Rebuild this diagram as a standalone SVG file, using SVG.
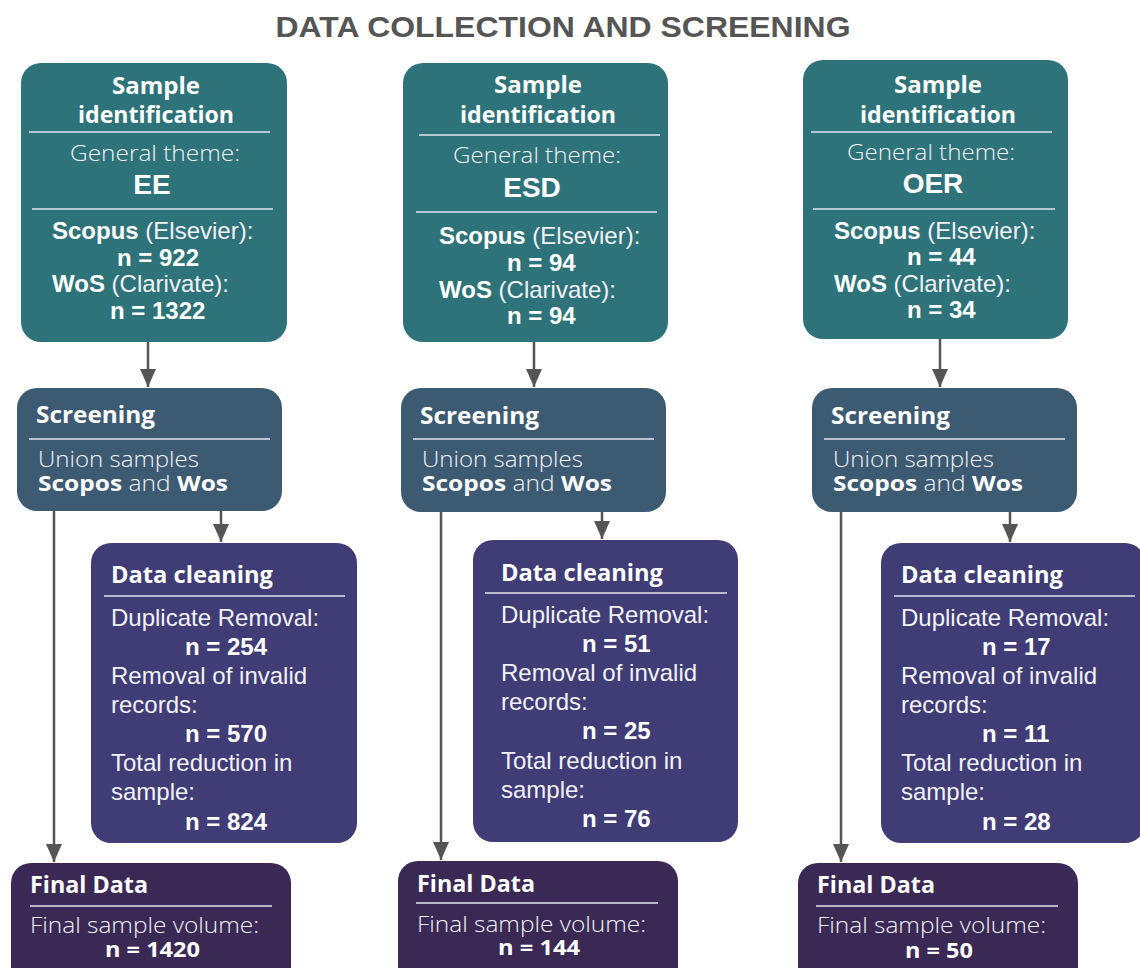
<svg xmlns="http://www.w3.org/2000/svg" width="1140" height="968" viewBox="0 0 1140 968">
  <defs>
    <!-- arrowhead drawn along +x so orient="auto" points it down the line -->
    <marker id="arrow" markerUnits="userSpaceOnUse" markerWidth="18" markerHeight="16" viewBox="0 0 18 16" refX="18" refY="8" orient="auto">
      <path d="M0,0 L18,8 L0,16 Z" fill="#555555"/>
    </marker>
    <style>
      .title { font-family: "Liberation Sans", Arial, sans-serif; font-weight: bold; font-size: 30px; fill: #555555; }
      .ident { fill: #2e7379; }
      .screen { fill: #3d5a73; }
      .clean { fill: #403c75; }
      .final { fill: #392954; }
      .rule { stroke: #e4e4ec; stroke-width: 1.5; }
      .head { font-family: "Open Sans", "Noto Sans", sans-serif; font-weight: bold; font-size: 23px; fill: #ffffff; }
      .lite { font-family: "Open Sans", "Noto Sans", sans-serif; font-weight: 300; font-size: 22px; fill: #f2f2f6; }
      .plexb { font-family: "Open Sans", "Noto Sans", sans-serif; font-weight: bold; font-size: 22px; fill: #ffffff; }
      .body { font-family: "Liberation Sans", Arial, sans-serif; font-size: 24px; fill: #f2f2f6; }
      .num { font-family: "Liberation Sans", Arial, sans-serif; font-weight: bold; font-size: 24px; fill: #ffffff; }
      .theme { font-family: "Liberation Sans", Arial, sans-serif; font-weight: bold; font-size: 28px; fill: #ffffff; }
      .b { font-weight: bold; fill: #ffffff; }
      .conn { stroke: #555555; stroke-width: 2.5; fill: none; }
    </style>
  </defs>

  <rect width="1140" height="968" fill="#ffffff"/>

  <text class="title" x="563" y="37" text-anchor="middle" textLength="575" lengthAdjust="spacingAndGlyphs">DATA COLLECTION AND SCREENING</text>

  <!-- connectors -->
  <g id="connectors">
    <line class="conn" x1="148" y1="342" x2="148" y2="387" marker-end="url(#arrow)"/>
    <line class="conn" x1="54" y1="511" x2="54" y2="862" marker-end="url(#arrow)"/>
    <line class="conn" x1="221" y1="511" x2="221" y2="542" marker-end="url(#arrow)"/>

    <line class="conn" x1="534" y1="342" x2="534" y2="387" marker-end="url(#arrow)"/>
    <line class="conn" x1="441" y1="512" x2="441" y2="860" marker-end="url(#arrow)"/>
    <line class="conn" x1="602" y1="512" x2="602" y2="539" marker-end="url(#arrow)"/>

    <line class="conn" x1="940" y1="339" x2="940" y2="387" marker-end="url(#arrow)"/>
    <line class="conn" x1="841" y1="512" x2="841" y2="862" marker-end="url(#arrow)"/>
    <line class="conn" x1="1010" y1="512" x2="1010" y2="542" marker-end="url(#arrow)"/>
  </g>

  <!-- column 1: EE -->
  <g id="ident-ee">
    <rect class="ident" x="21" y="63" width="266" height="279" rx="20"/>
    <text class="head" x="156" y="94" text-anchor="middle" textLength="88" lengthAdjust="spacingAndGlyphs">Sample</text>
    <text class="head" x="156" y="123" text-anchor="middle" textLength="156" lengthAdjust="spacingAndGlyphs">identification</text>
    <line class="rule" x1="29" y1="132" x2="270" y2="132"/>
    <text class="lite" x="155" y="161" text-anchor="middle" textLength="170" lengthAdjust="spacingAndGlyphs">General theme:</text>
    <text class="theme" x="152" y="194" text-anchor="middle">EE</text>
    <line class="rule" x1="32" y1="209" x2="273" y2="209"/>
    <text class="body" x="52" y="239"><tspan class="b">Scopus</tspan> (Elsevier):</text>
    <text class="num" x="117" y="266">n = 922</text>
    <text class="body" x="52" y="292"><tspan class="b">WoS</tspan> (Clarivate):</text>
    <text class="num" x="110" y="319">n = 1322</text>
  </g>

  <g id="screen-ee">
    <rect class="screen" x="17" y="388" width="265" height="123" rx="20"/>
    <text class="head" x="36" y="423" textLength="119" lengthAdjust="spacingAndGlyphs">Screening</text>
    <line class="rule" x1="29" y1="439" x2="270" y2="439"/>
    <text class="lite" x="38" y="467" textLength="161" lengthAdjust="spacingAndGlyphs">Union samples</text>
    <text class="lite" x="38" y="491" textLength="190" lengthAdjust="spacingAndGlyphs"><tspan class="b">Scopos</tspan> and <tspan class="b">Wos</tspan></text>
  </g>

  <g id="clean-ee">
    <rect class="clean" x="91" y="543" width="266" height="300" rx="20"/>
    <text class="head" x="111" y="583" textLength="162" lengthAdjust="spacingAndGlyphs">Data cleaning</text>
    <line class="rule" x1="104" y1="596" x2="345" y2="596"/>
    <text class="body" x="111" y="626">Duplicate Removal:</text>
    <text class="num" x="185" y="655">n = 254</text>
    <text class="body" x="111" y="684">Removal of invalid</text>
    <text class="body" x="111" y="713">records:</text>
    <text class="num" x="185" y="742">n = 570</text>
    <text class="body" x="111" y="771">Total reduction in</text>
    <text class="body" x="111" y="800">sample:</text>
    <text class="num" x="185" y="830">n = 824</text>
  </g>

  <g id="final-ee">
    <rect class="final" x="11" y="863" width="280" height="130" rx="20"/>
    <text class="head" x="30" y="893" textLength="118" lengthAdjust="spacingAndGlyphs">Final Data</text>
    <line class="rule" x1="30" y1="906" x2="272" y2="906"/>
    <text class="lite" x="30" y="933" textLength="229" lengthAdjust="spacingAndGlyphs">Final sample volume:</text>
    <text class="plexb" x="105" y="957" textLength="95" lengthAdjust="spacingAndGlyphs">n = 1420</text>
  </g>

  <!-- column 2: ESD -->
  <g id="ident-esd">
    <rect class="ident" x="403" y="63" width="265" height="279" rx="20"/>
    <text class="head" x="538" y="93" text-anchor="middle" textLength="88" lengthAdjust="spacingAndGlyphs">Sample</text>
    <text class="head" x="538" y="123" text-anchor="middle" textLength="156" lengthAdjust="spacingAndGlyphs">identification</text>
    <line class="rule" x1="419" y1="135" x2="660" y2="135"/>
    <text class="lite" x="537" y="163" text-anchor="middle" textLength="168" lengthAdjust="spacingAndGlyphs">General theme:</text>
    <text class="theme" x="532" y="197" text-anchor="middle">ESD</text>
    <line class="rule" x1="416" y1="212" x2="657" y2="212"/>
    <text class="body" x="439" y="244"><tspan class="b">Scopus</tspan> (Elsevier):</text>
    <text class="num" x="507" y="271">n = 94</text>
    <text class="body" x="439" y="298"><tspan class="b">WoS</tspan> (Clarivate):</text>
    <text class="num" x="507" y="324">n = 94</text>
  </g>

  <g id="screen-esd">
    <rect class="screen" x="401" y="388" width="265" height="124" rx="20"/>
    <text class="head" x="420" y="424" textLength="119" lengthAdjust="spacingAndGlyphs">Screening</text>
    <line class="rule" x1="413" y1="439" x2="654" y2="439"/>
    <text class="lite" x="422" y="467" textLength="161" lengthAdjust="spacingAndGlyphs">Union samples</text>
    <text class="lite" x="422" y="491" textLength="190" lengthAdjust="spacingAndGlyphs"><tspan class="b">Scopos</tspan> and <tspan class="b">Wos</tspan></text>
  </g>

  <g id="clean-esd">
    <rect class="clean" x="473" y="540" width="265" height="302" rx="20"/>
    <text class="head" x="501" y="581" textLength="162" lengthAdjust="spacingAndGlyphs">Data cleaning</text>
    <line class="rule" x1="485" y1="593" x2="727" y2="593"/>
    <text class="body" x="501" y="623">Duplicate Removal:</text>
    <text class="num" x="582" y="652">n = 51</text>
    <text class="body" x="501" y="681">Removal of invalid</text>
    <text class="body" x="501" y="710">records:</text>
    <text class="num" x="582" y="739">n = 25</text>
    <text class="body" x="501" y="769">Total reduction in</text>
    <text class="body" x="501" y="798">sample:</text>
    <text class="num" x="582" y="827">n = 76</text>
  </g>

  <g id="final-esd">
    <rect class="final" x="398" y="861" width="280" height="130" rx="20"/>
    <text class="head" x="417" y="892" textLength="118" lengthAdjust="spacingAndGlyphs">Final Data</text>
    <line class="rule" x1="416" y1="903" x2="658" y2="903"/>
    <text class="lite" x="417" y="932" textLength="229" lengthAdjust="spacingAndGlyphs">Final sample volume:</text>
    <text class="plexb" x="498" y="955" textLength="82" lengthAdjust="spacingAndGlyphs">n = 144</text>
  </g>

  <!-- column 3: OER -->
  <g id="ident-oer">
    <rect class="ident" x="803" y="60" width="265" height="279" rx="20"/>
    <text class="head" x="938" y="93" text-anchor="middle" textLength="88" lengthAdjust="spacingAndGlyphs">Sample</text>
    <text class="head" x="938" y="123" text-anchor="middle" textLength="156" lengthAdjust="spacingAndGlyphs">identification</text>
    <line class="rule" x1="811" y1="132" x2="1052" y2="132"/>
    <text class="lite" x="931" y="160" text-anchor="middle" textLength="168" lengthAdjust="spacingAndGlyphs">General theme:</text>
    <text class="theme" x="933" y="193" text-anchor="middle">OER</text>
    <line class="rule" x1="813" y1="209" x2="1055" y2="209"/>
    <text class="body" x="834" y="239"><tspan class="b">Scopus</tspan> (Elsevier):</text>
    <text class="num" x="907" y="265">n = 44</text>
    <text class="body" x="834" y="292"><tspan class="b">WoS</tspan> (Clarivate):</text>
    <text class="num" x="907" y="318">n = 34</text>
  </g>

  <g id="screen-oer">
    <rect class="screen" x="812" y="388" width="265" height="124" rx="20"/>
    <text class="head" x="831" y="424" textLength="119" lengthAdjust="spacingAndGlyphs">Screening</text>
    <line class="rule" x1="824" y1="439" x2="1065" y2="439"/>
    <text class="lite" x="833" y="467" textLength="161" lengthAdjust="spacingAndGlyphs">Union samples</text>
    <text class="lite" x="833" y="491" textLength="190" lengthAdjust="spacingAndGlyphs"><tspan class="b">Scopos</tspan> and <tspan class="b">Wos</tspan></text>
  </g>

  <g id="clean-oer">
    <rect class="clean" x="881" y="543" width="264" height="300" rx="20"/>
    <text class="head" x="901" y="583" textLength="162" lengthAdjust="spacingAndGlyphs">Data cleaning</text>
    <line class="rule" x1="894" y1="596" x2="1135" y2="596"/>
    <text class="body" x="901" y="626">Duplicate Removal:</text>
    <text class="num" x="982" y="655">n = 17</text>
    <text class="body" x="901" y="684">Removal of invalid</text>
    <text class="body" x="901" y="713">records:</text>
    <text class="num" x="982" y="742">n = 11</text>
    <text class="body" x="901" y="771">Total reduction in</text>
    <text class="body" x="901" y="800">sample:</text>
    <text class="num" x="982" y="830">n = 28</text>
  </g>

  <g id="final-oer">
    <rect class="final" x="798" y="863" width="280" height="130" rx="20"/>
    <text class="head" x="817" y="893" textLength="118" lengthAdjust="spacingAndGlyphs">Final Data</text>
    <line class="rule" x1="816" y1="906" x2="1058" y2="906"/>
    <text class="lite" x="817" y="933" textLength="229" lengthAdjust="spacingAndGlyphs">Final sample volume:</text>
    <text class="plexb" x="905" y="958" textLength="68" lengthAdjust="spacingAndGlyphs">n = 50</text>
  </g>
</svg>
